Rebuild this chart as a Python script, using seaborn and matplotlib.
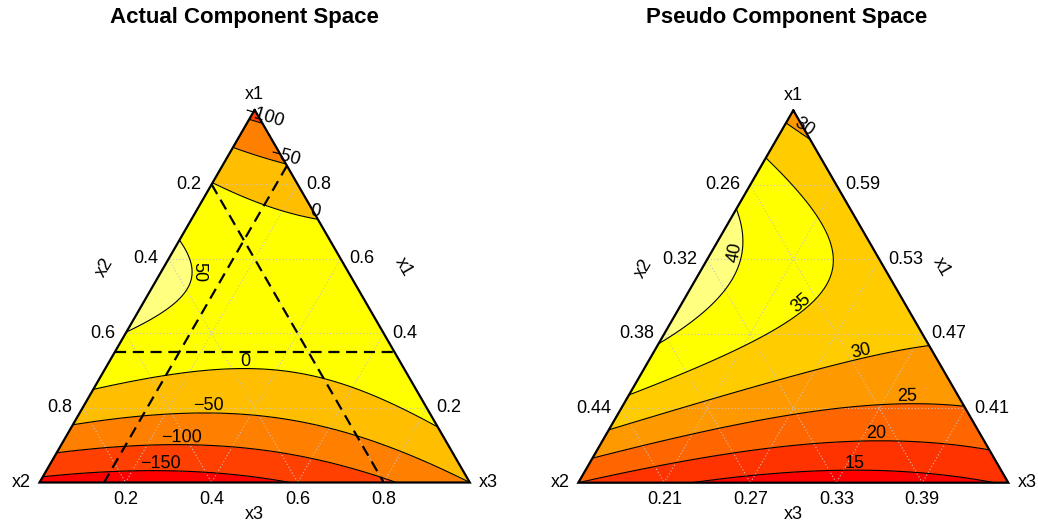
import numpy as np
import matplotlib
matplotlib.use("Agg")
import matplotlib.pyplot as plt
import matplotlib.tri as mtri
import matplotlib.transforms as mtransforms
import seaborn as sns

# Scheffe quadratic model in actual proportions
linear_coef = [-119.0, -163.0, -50.0]   # x1, x2, x3
blend_coef = [811.0, 476.0, -217.0]     # x1*x2, x1*x3, x2*x3
lower_bounds = [0.35, 0.20, 0.15]       # x1, x2, x3 constraints

actual_levels = [-200, -150, -100, -50, 0, 50, 100]
pseudo_levels = [10, 15, 20, 25, 30, 35, 40, 45]
actual_colors = ["#FF0000", "#FF4000", "#FF8000", "#FFBF00", "#FFFF00", "#FFFF80"]
pseudo_colors = ["#FF0000", "#FF3300", "#FF6600", "#FF9900", "#FFCC00", "#FFFF00", "#FFFF80"]

grid_fracs = [0.2, 0.4, 0.6, 0.8]
actual_x1_labels = ["0.2", "0.4", "0.6", "0.8"]
actual_x2_labels = ["0.2", "0.4", "0.6", "0.8"]
actual_x3_labels = ["0.2", "0.4", "0.6", "0.8"]
pseudo_x1_labels = ["0.41", "0.47", "0.53", "0.59"]
pseudo_x2_labels = ["0.26", "0.32", "0.38", "0.44"]
pseudo_x3_labels = ["0.21", "0.27", "0.33", "0.39"]

# where the contour labels sit (triangle units)
actual_label_pos = [(0.524, 0.847), (0.570, 0.757), (0.640, 0.629), (0.369, 0.490),
                    (0.478, 0.278), (0.392, 0.176), (0.330, 0.103), (0.280, 0.042)]
pseudo_label_pos = [(0.531, 0.836), (0.376, 0.533), (0.523, 0.413), (0.659, 0.305),
                    (0.764, 0.199), (0.692, 0.116), (0.643, 0.049)]

W, H = 1038, 525
SQ3 = np.sqrt(3.0)

sns.set_theme(style="white")
plt.rcParams['font.family'] = ['Liberation Sans', 'DejaVu Sans']
plt.rcParams['axes.unicode_minus'] = True
plt.rcParams['text.color'] = 'black'


def to_xy(x1, x2, x3):
    return x3 + 0.5 * x1, x1 * SQ3 / 2


def response(x1, x2, x3):
    b1, b2, b3 = linear_coef
    b12, b13, b23 = blend_coef
    return (b1 * x1 + b2 * x2 + b3 * x3
            + b12 * x1 * x2 + b13 * x1 * x3 + b23 * x2 * x3)


def make_axes(fig, origin, scale, box):
    x0, y0, x1, y1 = box
    ax = fig.add_axes([x0 / W, 1 - y1 / H, (x1 - x0) / W, (y1 - y0) / H])
    lims = ((x0 - origin[0]) / scale, (x1 - origin[0]) / scale,
            (origin[1] - y1) / scale, (origin[1] - y0) / scale)
    return ax, lims


def fmt_level(v):
    return f"{v:g}".replace("-", "\u2212")


def draw_panel(ax, lims, scale, pseudo, levels, colors, labels, label_pos):
    ax.set_xlim(lims[0], lims[1])
    ax.set_ylim(lims[2], lims[3])

    # triangular mesh over the simplex
    n = 160
    p1, p3 = [], []
    for i in range(n + 1):
        for j in range(n + 1 - i):
            p1.append(i / n)
            p3.append(j / n)
    p1 = np.array(p1)
    p3 = np.array(p3)
    p2 = np.clip(1 - p1 - p3, 0, 1)
    if pseudo:
        span = 1 - sum(lower_bounds)
        a1 = lower_bounds[0] + span * p1
        a2 = lower_bounds[1] + span * p2
        a3 = lower_bounds[2] + span * p3
    else:
        a1, a2, a3 = p1, p2, p3
    z = response(a1, a2, a3)
    X, Y = to_xy(p1, p2, p3)
    tri = mtri.Triangulation(X, Y)

    ax.tricontourf(tri, z, levels=levels, colors=colors, zorder=1)

    # dotted grid
    for t in grid_fracs:
        for a, b in [((t, 1 - t, 0), (t, 0, 1 - t)),
                     ((1 - t, t, 0), (0, t, 1 - t)),
                     ((1 - t, 0, t), (0, 1 - t, t))]:
            xa, ya = to_xy(*a)
            xb, yb = to_xy(*b)
            ax.plot([xa, xb], [ya, yb], color="#c4c4c4", lw=0.8,
                    linestyle=(0, (1, 2)), zorder=2)

    cs = ax.tricontour(tri, z, levels=levels, colors="black",
                       linewidths=0.8, negative_linestyles="solid", zorder=3)
    texts = ax.clabel(cs, inline=False, fontsize=13, fmt=fmt_level,
                      manual=label_pos)
    # R draws the labels just above the line, without breaking it
    for t in texts:
        ang = np.deg2rad(t.get_rotation())
        t.set_transform(mtransforms.offset_copy(
            t.get_transform(), fig=ax.figure,
            x=-7 * np.sin(ang), y=7 * np.cos(ang), units="dots"))

    if not pseudo:
        L1, L2, L3 = lower_bounds
        segs = [((L1, 1 - L1, 0), (L1, 0, 1 - L1)),
                ((1 - L2, L2, 0), (0, L2, 1 - L2)),
                ((1 - L3, 0, L3), (0, 1 - L3, L3))]
        for a, b in segs:
            xa, ya = to_xy(*a)
            xb, yb = to_xy(*b)
            sns.lineplot(x=[xa, xb], y=[ya, yb], sort=False, estimator=None,
                         color="black", linewidth=1.6,
                         linestyle=(0, (5, 3)), ax=ax, zorder=4)

    # triangle border
    cx, cy = to_xy(np.array([1, 0, 0, 1]), np.array([0, 1, 0, 0]),
                   np.array([0, 0, 1, 0]))
    ax.plot(cx, cy, color="black", lw=1.6, zorder=5, solid_joinstyle="miter")

    x1_labels, x2_labels, x3_labels = labels
    fs = 13
    for t, lab in zip(grid_fracs, x2_labels):
        x, y = to_xy(1 - t, t, 0)
        ax.text(x - 10 / scale, y, lab, ha="right", va="center", fontsize=fs)
    for t, lab in zip(grid_fracs, x1_labels):
        x, y = to_xy(t, 0, 1 - t)
        ax.text(x + 9 / scale, y, lab, ha="left", va="center", fontsize=fs)
    for t, lab in zip(grid_fracs, x3_labels):
        x, y = to_xy(0, 1 - t, t)
        ax.text(x, y - 17 / scale, lab, ha="center", va="center", fontsize=fs)

    # vertex names and axis names
    ax.text(0.5, SQ3 / 2 + 15 / scale, "x1", ha="center", va="center", fontsize=fs)
    ax.text(-9 / scale, 0, "x2", ha="right", va="center", fontsize=fs)
    ax.text(1 + 9 / scale, 0, "x3", ha="left", va="center", fontsize=fs)
    ax.text(0.5, -32 / scale, "x3", ha="center", va="center", fontsize=fs)
    ax.text(0.152, 0.499, "x2", ha="center", va="center", rotation=60, fontsize=fs)
    ax.text(0.845, 0.501, "x1", ha="center", va="center", rotation=-60, fontsize=fs)

    ax.set_xlim(lims[0], lims[1])
    ax.set_ylim(lims[2], lims[3])
    ax.axis("off")


fig = plt.figure(figsize=(W / 100, H / 100), dpi=100)

ax_l, lims_l = make_axes(fig, (39.5, 482.5), 430.3, (0, 40, 519, 525))
draw_panel(ax_l, lims_l, 430.3, False, actual_levels, actual_colors,
           (actual_x1_labels, actual_x2_labels, actual_x3_labels), actual_label_pos)

ax_r, lims_r = make_axes(fig, (578.3, 482.7), 430.0, (519, 40, 1038, 525))
draw_panel(ax_r, lims_r, 430.0, True, pseudo_levels, pseudo_colors,
           (pseudo_x1_labels, pseudo_x2_labels, pseudo_x3_labels), pseudo_label_pos)

fig.text(244 / W, 1 - 17 / H, "Actual Component Space", ha="center", va="center",
         fontsize=16, fontweight="bold")
fig.text(787 / W, 1 - 17 / H, "Pseudo Component Space", ha="center", va="center",
         fontsize=16, fontweight="bold")

fig.savefig("out.png", dpi=100)
plt.close(fig)
